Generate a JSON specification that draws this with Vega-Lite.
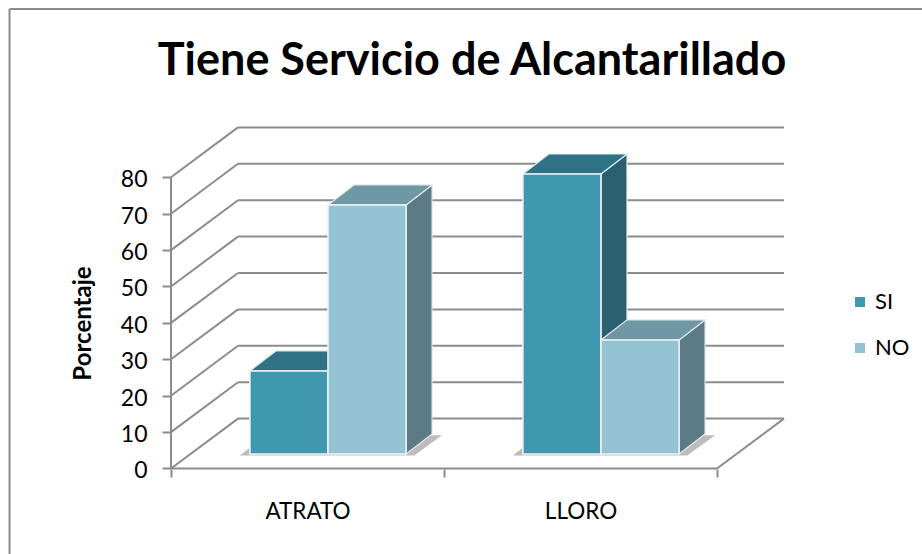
{
"$schema":"https://vega.github.io/schema/vega-lite/v6.json",
"width":922,"height":554,"padding":0,"autosize":{"type":"none"},"background":"white",
"config":{"view":{"stroke":null},"font":"Lato"},
"title":{"text":"Tiene Servicio de Alcantarillado","font":"Lato","fontSize":45,"fontWeight":"bold","color":"black","anchor":"middle","dx":11,"baseline":"alphabetic","offset":-120},
"params":[{"name":"du","value":0.2454},{"name":"dv","value":13.7},{"name":"bdu","value":0.0952},{"name":"bdv","value":5.5},{"name":"bw","value":0.286},{"name":"base","value":4}],
"data":{"values":[{"frame":1}]},
"datasets":{
"bars":[
{"region":"ATRATO","idx":0,"respuesta":"SI","s":0,"valor":22.8},
{"region":"LLORO","idx":1,"respuesta":"SI","s":0,"valor":76.9},
{"region":"ATRATO","idx":0,"respuesta":"NO","s":1,"valor":68.4},
{"region":"LLORO","idx":1,"respuesta":"NO","s":1,"valor":31.3}],
"ticks":[{"t":0},{"t":10},{"t":20},{"t":30},{"t":40},{"t":50},{"t":60},{"t":70},{"t":80}],
"regions":[{"g":0},{"g":1}]
},
"layer":[
{"mark":{"type":"rule","color":"#8c8c8c","strokeWidth":2},
 "encoding":{"x":{"datum":-0.5916,"type":"quantitative","scale":{"domain":[-0.6264,2.7509],"range":[0,922],"nice":false,"zero":false},
   "axis":{"orient":"bottom","offset":-85,"values":[0,0.5,1,1.5,2],"title":null,"grid":false,"domain":false,"tickSize":8,"tickColor":"#8c8c8c","tickWidth":2,
   "tickOpacity":{"condition":{"test":"datum.value==0.5||datum.value==1.5","value":0},"value":1},
   "labelExpr":"datum.value==0.5?'ATRATO':(datum.value==1.5?'LLORO':'')","labelFontSize":22.5,"labelColor":"black","labelPadding":23,"labelFont":"Lato","labelFlush":false,"labelOverlap":false}},
  "y":{"datum":126.2,"type":"quantitative","scale":{"domain":[-23.49,128.7],"range":[554,0],"nice":false,"zero":false},
   "axis":{"orient":"left","offset":-171,"values":[0,10,20,30,40,50,60,70,80],"title":"Porcentaje","titleFont":"Lato","titleFontSize":24,"titleFontWeight":"bold","titleColor":"black","titleX":-76,"titleY":323,"grid":false,"domain":false,"tickSize":9,"tickColor":"#8c8c8c","tickWidth":2,"labelFontSize":23,"labelColor":"black","labelPadding":15,"labelFont":"Lato","labelOffset":2.5}},
  "y2":{"datum":-23.49}}},
{"mark":{"type":"rule","color":"#8c8c8c","strokeWidth":2},
 "encoding":{"x":{"datum":-0.5916},"x2":{"datum":2.7509},"y":{"datum":126.2}}},
{"data":{"name":"ticks"},
 "transform":[{"calculate":"du","as":"bx"},{"calculate":"datum.t+dv","as":"by"},{"calculate":"0","as":"fx"}],
 "mark":{"type":"rule","color":"#8c8c8c","strokeWidth":2},
 "encoding":{"x":{"field":"fx","type":"quantitative"},"y":{"field":"t","type":"quantitative"},"x2":{"field":"bx"},"y2":{"field":"by"}}},
{"data":{"name":"ticks"},
 "transform":[{"calculate":"du","as":"bx"},{"calculate":"2+du","as":"ex"},{"calculate":"datum.t+dv","as":"by"}],
 "mark":{"type":"rule","color":"#8c8c8c","strokeWidth":2},
 "encoding":{"x":{"field":"bx","type":"quantitative"},"x2":{"field":"ex"},"y":{"field":"by","type":"quantitative"}}},
{"mark":{"type":"rule","color":"#8c8c8c","strokeWidth":2},
 "encoding":{"x":{"datum":0},"y":{"datum":0},"y2":{"datum":80}}},
{"mark":{"type":"rule","color":"#8c8c8c","strokeWidth":2},
 "encoding":{"x":{"datum":0},"x2":{"datum":2},"y":{"datum":0}}},
{"transform":[{"calculate":"2","as":"ax"},{"calculate":"2+du","as":"bx"},{"calculate":"0","as":"ay"},{"calculate":"dv","as":"by"}],
 "mark":{"type":"rule","color":"#8c8c8c","strokeWidth":2},
 "encoding":{"x":{"field":"ax","type":"quantitative"},"x2":{"field":"bx"},"y":{"field":"ay","type":"quantitative"},"y2":{"field":"by"}}},
{"data":{"name":"regions"},
 "transform":[{"calculate":"[0,1]","as":"pt"},{"flatten":["pt"]},
  {"calculate":"base-0.4+datum.pt*bdv","as":"yy"},
  {"calculate":"datum.g+0.289-0.037+datum.pt*bdu","as":"xa"},
  {"calculate":"datum.g+0.289+2*bw+0.03+datum.pt*(bdu+0.007)","as":"xb"}],
 "mark":{"type":"area","orient":"horizontal","color":"#bcbcbc"},
 "encoding":{"detail":{"field":"g"},"y":{"field":"yy","type":"quantitative"},"x":{"field":"xa","type":"quantitative"},"x2":{"field":"xb"}}},
{"data":{"name":"bars"},
 "transform":[{"calculate":"[0,1]","as":"pt"},{"flatten":["pt"]},
  {"calculate":"datum.idx+0.289+(datum.s+1)*bw+datum.pt*bdu","as":"xx"},
  {"calculate":"base+datum.pt*bdv","as":"y0"},
  {"calculate":"base+datum.valor+datum.pt*bdv","as":"y1"},
  {"calculate":"datum.respuesta=='SI'?'#2a6070':'#5d7b87'","as":"c"},
  {"calculate":"datum.region+datum.respuesta","as":"k"}],
 "mark":{"type":"area","stroke":"#dfe8ea","strokeWidth":1.2},
 "encoding":{"detail":{"field":"k"},"x":{"field":"xx","type":"quantitative"},"y":{"field":"y1","type":"quantitative"},"y2":{"field":"y0"},"fill":{"field":"c","type":"nominal","scale":null}}},
{"data":{"name":"bars"},
 "transform":[{"calculate":"[0,1]","as":"pt"},{"flatten":["pt"]},
  {"calculate":"base+datum.valor+datum.pt*bdv","as":"yy"},
  {"calculate":"datum.idx+0.289+datum.s*bw+datum.pt*bdu","as":"xa"},
  {"calculate":"datum.idx+0.289+(datum.s+1)*bw+datum.pt*bdu","as":"xb"},
  {"calculate":"datum.respuesta=='SI'?'#2f7285':'#6f97a4'","as":"c"},
  {"calculate":"datum.region+datum.respuesta","as":"k"}],
 "mark":{"type":"area","orient":"horizontal","stroke":"#dfe8ea","strokeWidth":1.2},
 "encoding":{"detail":{"field":"k"},"y":{"field":"yy","type":"quantitative"},"x":{"field":"xa","type":"quantitative"},"x2":{"field":"xb"},"fill":{"field":"c","type":"nominal","scale":null}}},
{"data":{"name":"bars"},
 "transform":[
  {"calculate":"datum.idx+0.289+datum.s*bw","as":"x0"},
  {"calculate":"datum.idx+0.289+(datum.s+1)*bw","as":"x1"},
  {"calculate":"base","as":"y0"},
  {"calculate":"base+datum.valor","as":"y1"}],
 "mark":{"type":"rect","stroke":"#eef3f4","strokeWidth":1.6},
 "encoding":{"x":{"field":"x0","type":"quantitative"},"x2":{"field":"x1"},"y":{"field":"y1","type":"quantitative"},"y2":{"field":"y0"},
  "fill":{"field":"respuesta","type":"nominal","scale":{"domain":["SI","NO"],"range":["#4097b0","#94c3d4"]},
   "legend":{"orient":"none","legendX":849,"legendY":291,"title":null,"symbolType":"square","symbolSize":100,"symbolStrokeWidth":0,"labelFontSize":22,"labelFont":"Lato","labelColor":"black","rowPadding":24,"labelOffset":4}}}}
]
}
